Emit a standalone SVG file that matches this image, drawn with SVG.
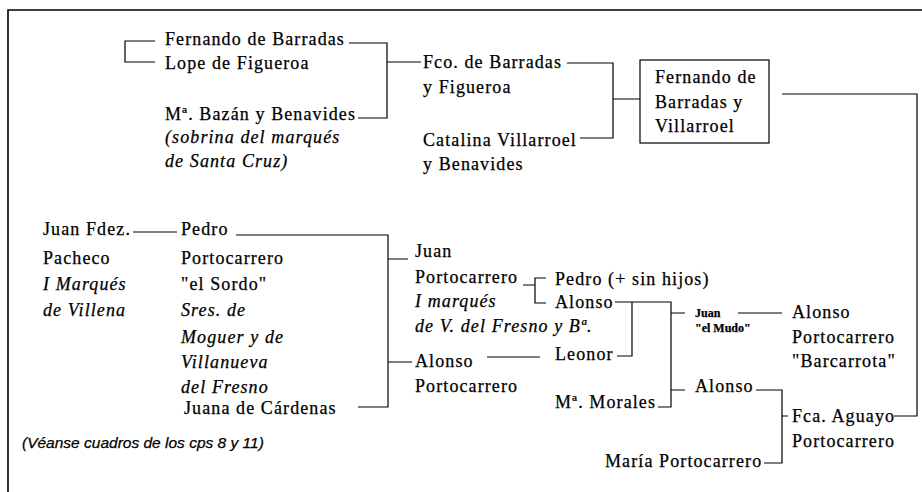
<svg xmlns="http://www.w3.org/2000/svg" width="922" height="492" viewBox="0 0 922 492">
<style>
text{font-family:"Liberation Serif","Times New Roman",serif;font-size:18px;letter-spacing:1.1px;fill:#000;stroke:#000;stroke-width:0.25}
.i{font-style:italic}
.s{font-size:12px;font-weight:bold;letter-spacing:0}
.n{font-family:"Liberation Sans",Arial,sans-serif;font-style:italic;font-size:15.5px;letter-spacing:0}
.c{fill:none;stroke:#000;stroke-width:1.2}
.f{fill:none;stroke:#000;stroke-width:1.6}
</style>
<rect width="922" height="492" fill="#fff"/>
<path class="f" d="M8,492 V10 H922"/>
<g id="connectors">
<path class="c" d="M155,41 H125 V62 H155"/>
<path class="c" d="M349,43 H387 V118 H358 M387,62 H421"/>
<path class="c" d="M567,63 H613 V138 H580 M613,99 H640"/>
<path class="c" d="M782,94 H917 V416 H894"/>
<path class="c" d="M133,232 H177"/>
<path class="c" d="M236,235 H388 V407 H358 M388,259 H408 M388,362 H412"/>
<path class="c" d="M523,285 H535 M546,278 H535 V303 H546"/>
<path class="c" d="M487,357 H540"/>
<path class="c" d="M615,302 H671 V407 H658 M632,302 V356 H617 M671,313 H685 M671,390 H685"/>
<path class="c" d="M738,313 H782"/>
<path class="c" d="M756,390 H782 V463 H764 M782,416 H788"/>
</g>
<g id="fernando-barradas"><text x="165" y="45">Fernando de Barradas</text></g>
<g id="lope-figueroa"><text x="165" y="69">Lope de Figueroa</text></g>
<g id="bazan"><text x="165" y="120">Mª. Bazán y Benavides</text><text class="i" x="165" y="143">(sobrina del marqués</text><text class="i" x="165" y="167">de Santa Cruz)</text></g>
<g id="fco-barradas"><text x="423" y="68">Fco. de Barradas</text><text x="423" y="93">y Figueroa</text></g>
<g id="catalina"><text x="423" y="146">Catalina Villarroel</text><text x="423" y="170">y Benavides</text></g>
<g id="fernando-villarroel"><rect class="c" x="640" y="60" width="129" height="83"/><text x="655" y="83">Fernando de</text><text x="655" y="108">Barradas y</text><text x="655" y="132">Villarroel</text></g>
<g id="juan-pacheco"><text x="43" y="235">Juan Fdez.</text><text x="43" y="264">Pacheco</text><text class="i" x="43" y="290">I Marqués</text><text class="i" x="43" y="316">de Villena</text></g>
<g id="pedro-sordo"><text x="181" y="235">Pedro</text><text x="181" y="264">Portocarrero</text><text x="181" y="290">"el Sordo"</text><text class="i" x="181" y="316">Sres. de</text><text class="i" x="181" y="343">Moguer y de</text><text class="i" x="181" y="368">Villanueva</text><text class="i" x="181" y="393">del Fresno</text></g>
<g id="juana"><text x="184" y="414">Juana de Cárdenas</text></g>
<g id="juan-portocarrero"><text x="415" y="257">Juan</text><text x="415" y="283">Portocarrero</text><text class="i" x="415" y="307">I marqués</text><text class="i" x="415" y="332">de V. del Fresno y Bª.</text></g>
<g id="pedro-sin-hijos"><text x="555" y="285">Pedro (+ sin hijos)</text></g>
<g id="alonso-1"><text x="555" y="308">Alonso</text></g>
<g id="alonso-portocarrero"><text x="415" y="367">Alonso</text><text x="415" y="392">Portocarrero</text></g>
<g id="leonor"><text x="555" y="360">Leonor</text></g>
<g id="morales"><text x="555" y="408">Mª. Morales</text></g>
<g id="juan-mudo"><text class="s" x="695" y="317">Juan</text><text class="s" x="695" y="332">"el Mudo"</text></g>
<g id="alonso-barcarrota"><text x="792" y="318">Alonso</text><text x="792" y="343">Portocarrero</text><text x="792" y="367">"Barcarrota"</text></g>
<g id="alonso-2"><text x="695" y="392">Alonso</text></g>
<g id="fca-aguayo"><text x="792" y="422">Fca. Aguayo</text><text x="792" y="447">Portocarrero</text></g>
<g id="maria-portocarrero"><text x="605" y="467">María Portocarrero</text></g>
<g id="note"><text class="n" x="22" y="448">(Véanse cuadros de los cps 8 y 11)</text></g>
</svg>
